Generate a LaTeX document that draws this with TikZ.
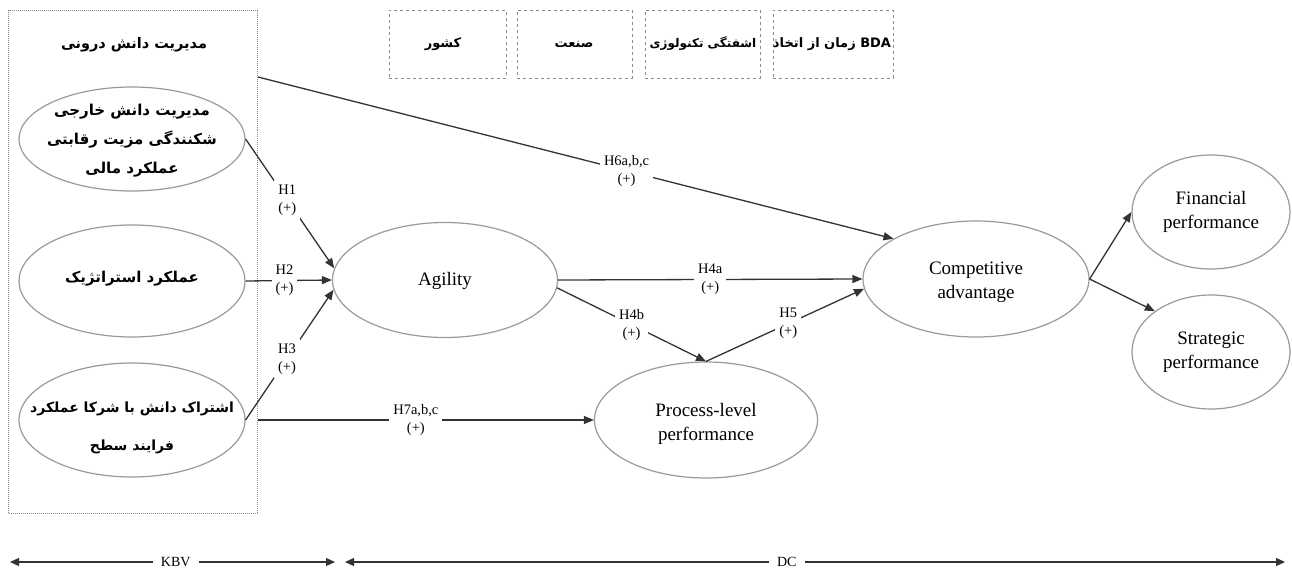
\documentclass[tikz,border=0pt]{standalone}
\usepackage{fontspec}
\setmainfont{Liberation Serif}
\newfontfamily\fa[Script=Arabic]{DejaVu Sans}
\TeXXeTstate=1
\usetikzlibrary{shapes.geometric,arrows.meta,calc}
\definecolor{ellgray}{HTML}{9A9A9A}
\definecolor{linegray}{HTML}{333333}
\definecolor{boxgray}{HTML}{8A8A8A}
\begin{document}
\begin{tikzpicture}[x=1pt,y=-1pt,
  ell/.style={draw=ellgray,line width=1.2pt,ellipse,inner sep=0pt},
  en/.style={font=\fontsize{19}{24}\selectfont,align=center,inner sep=0pt},
  fat/.style={font=\fa\bfseries\fontsize{15}{29}\selectfont,align=center,inner sep=0pt},
  fatsm/.style={font=\fa\bfseries\fontsize{13}{16}\selectfont,align=center,inner sep=0pt},
  conn/.style={draw=linegray,line width=1.3pt,-{Triangle[length=10pt,width=8pt]}},
  hl/.style={fill=white,font=\fontsize{14.5}{18}\selectfont,align=center,inner sep=4pt},
  ctrl/.style={draw=boxgray,dashed,line width=0.8pt,minimum width=115pt,minimum height=68pt,inner sep=0pt},
  span/.style={draw=linegray,line width=1.2pt,{Triangle[length=9pt,width=8pt]}-{Triangle[length=9pt,width=8pt]}},
  spanlbl/.style={fill=white,font=\fontsize{14}{18}\selectfont,inner sep=8pt}
]
\useasboundingbox (0,0) rectangle (1292,570);
\fill[white] (0,0) rectangle (1292,570);

% KBV box
\node[draw=boxgray,densely dotted,line width=1pt,minimum width=249pt,minimum height=503pt,anchor=north west,inner sep=0pt] (kbox) at (8,10) {};
\node[fat,font=\fa\bfseries\fontsize{14.5}{29}\selectfont] (ktitle) at (134,45) {\beginR مدیریت دانش درونی\endR};

% left ellipses
\node[ell,minimum width=226pt,minimum height=104pt] (e1) at (132,139) {};
\node[fat] (e1t) at (132,141) {\beginR مدیریت دانش خارجی\endR\\\beginR شکنندگی مزیت رقابتی\endR\\\beginR عملکرد مالی\endR};
\node[ell,minimum width=226pt,minimum height=112pt] (e2) at (132,281) {};
\node[fat] (e2t) at (132,279) {\beginR عملکرد استراتژیک\endR};
\node[ell,minimum width=226pt,minimum height=114pt] (e3) at (132,420) {};
\node[fat,font=\fa\bfseries\fontsize{14}{38}\selectfont] (e3t) at (132,428) {\beginR اشتراک دانش با شرکا عملکرد\endR\\\beginR فرایند سطح\endR};

% control boxes
\node[ctrl,minimum width=117pt] (c1) at (447.5,44) {};
\node[fatsm] (c1t) at (443,44) {\beginR کشور\endR};
\node[ctrl] (c2) at (574.5,44) {};
\node[fatsm] (c2t) at (574,44) {\beginR صنعت\endR};
\node[ctrl] (c3) at (702.5,44) {};
\node[fatsm,font=\fa\bfseries\fontsize{12}{16}\selectfont] (c3t) at (703,44) {\beginR اشفتگی تکنولوژی\endR};
\node[ctrl,minimum width=120pt] (c4) at (833,44) {};
\node[fatsm] (c4t) at (832,44) {\beginR زمان از اتخاذ\endR{} BDA};

% main ellipses
\node[ell,minimum width=225pt,minimum height=115pt] (ag) at (445,280) {};
\node[en] (agt) at (445,281) {Agility};
\node[ell,minimum width=226pt,minimum height=116pt] (ca) at (976,279) {};
\node[en] (cat) at (976,282) {Competitive\\advantage};
\node[ell,minimum width=223pt,minimum height=116pt] (pl) at (706,420) {};
\node[en] (plt) at (706,424) {Process-level\\performance};
\node[ell,minimum width=158pt,minimum height=114pt] (fin) at (1211,212) {};
\node[en] (fint) at (1211,212) {Financial\\performance};
\node[ell,minimum width=158pt,minimum height=114pt] (str) at (1211,352) {};
\node[en] (strt) at (1211,352) {Strategic\\performance};

% coordinates on the box edge
\coordinate (h6s) at (kbox.east |- 0,77);
\coordinate (h7s) at (kbox.east |- pl.west);

% connectors
\draw[conn] (e1.east) -- node[hl,pos=0.47] (lh1) {H1\\(+)} (ag.174);
\draw[conn] (e2.east) -- node[hl,pos=0.45] (lh2) {H2\\(+)} (ag.west);
\draw[conn] (e3.east) -- node[hl,pos=0.47] (lh3) {H3\\(+)} (ag.185);
\draw[conn] (h6s) -- node[hl,pos=0.58] (lh6) {H6a,b,c\\(+)} (ca.154);
\draw[conn] (ag.east) -- node[hl,pos=0.5] (lh4a) {H4a\\(+)} (ca.west);
\draw[conn] (ag.-4) -- node[hl,pos=0.5] (lh4b) {H4b\\(+)} (pl.north);
\draw[conn] (pl.north) -- node[hl,pos=0.52] (lh5) {H5\\(+)} (ca.185);
\draw[conn] (h7s) -- node[hl,pos=0.47] (lh7) {H7a,b,c\\(+)} (pl.west);
\draw[conn] (ca.east) -- (fin.west);
\draw[conn] (ca.east) -- (str.144);

% bottom spans
\coordinate (k1) at (10,562);
\coordinate (k2) at (335,562);
\coordinate (d1) at (345,562);
\coordinate (d2) at (1285,562);
\draw[span] (k1) -- node[spanlbl,pos=0.51] (kbv) {KBV} (k2);
\draw[span] (d1) -- node[spanlbl,pos=0.47] (dc) {DC} (d2);
\end{tikzpicture}
\end{document}
